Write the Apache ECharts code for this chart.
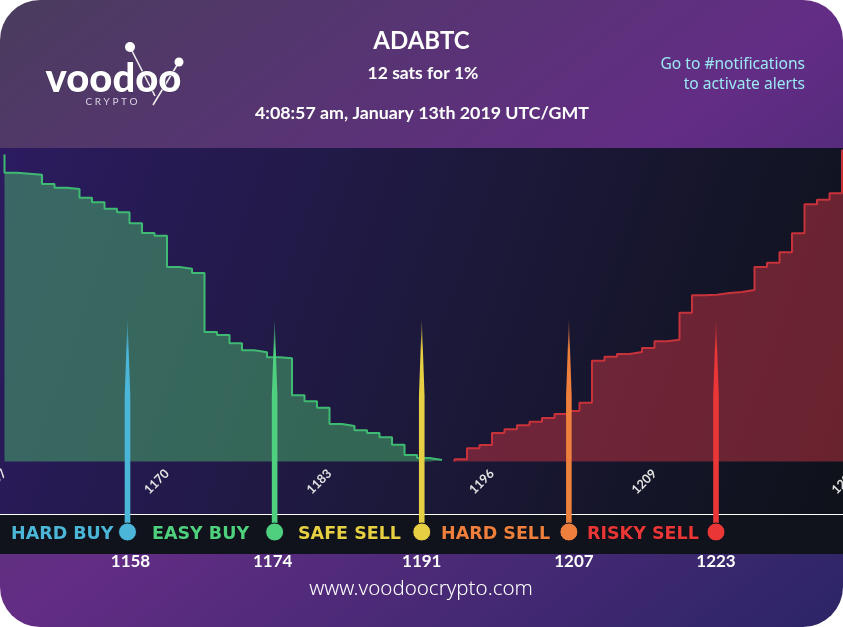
<!DOCTYPE html>
<html>
<head>
<meta charset="utf-8">
<title>ADABTC</title>
<style>
	html, body { margin: 0; padding: 0; background: #fff; }
	#main { width: 843px; height: 627px; }
</style>
<script src="https://cdn.jsdelivr.net/npm/echarts@6/dist/echarts.min.js"></script>
</head>
<body>
<div id="main"></div>
<script>
	// price axis
	var prices = ['1157','1158','1159','1160','1161','1162','1163','1164','1165','1166','1167','1168','1169','1170','1171','1172','1173',
		'1174','1175','1176','1177','1178','1179','1180','1181','1182','1183','1184','1185','1186','1187','1188','1189','1190','1191',
		'1192','1193','1194','1195','1196','1197','1198','1199','1200','1201','1202','1203','1204','1205','1206','1207','1208','1209',
		'1210','1211','1212','1213','1214','1215','1216','1217','1218','1219','1220','1221','1222','1223','1224','1225'];
	var tickLabels = ['1157','1170','1183','1196','1209','1225'];

	// order book depth, no scale on the picture so the unit is arbitrary
	var buyDepth = [307,288.8,287.8,286.8,277.5,273.8,272.5,263.8,259.2,252.8,249.2,238.2,228.5,225.8,194.5,192.8,188.5,129.5,126.5,
		118.2,111.2,109.2,104.2,103.2,66.2,60.2,53.8,37.5,35.5,31.2,28.5,24.2,16.8,6.5,3.5,1.5];
	var sellDepth = [0,2.2,13.2,16.5,28.5,32.2,36.2,39.8,43.5,47.5,50.5,58.8,100.8,104.8,107.5,109.5,113.5,120.2,121.8,148.8,166.2,
		166.8,168.5,169.5,171.5,194.5,198.8,209.2,228.2,257.2,261.8,268.2,311];
	var sellStart = 36;

	// pins under the chart
	var pinNames = ['HARD BUY','EASY BUY','SAFE SELL','HARD SELL','RISKY SELL'];
	var pinPrices = ['1158','1174','1191','1207','1223'];
	var pinColors = ['#4cb6d8','#4fd07f','#e6cf42','#ee7f3c','#ea3636'];
	var pinLabelShift = [3,-2,0,5,0];
	var pinNameX = [11,152,298,441,587];

	// no nulls here, the step line slants next to a gap
	function depthPoints(values, start) {
		return values.map(function (v, i) { return [prices[start + i], v]; });
	}

	function renderPin(params, api) {
		var i = params.dataIndex;
		var top = api.coord([api.value(0), 1]);
		var bot = api.coord([api.value(0), 0]);
		var x = top[0], w = 2.8;
		return {
			type: 'group',
			children: [{
				type: 'polygon',
				shape: { points: [[x, top[1]], [x + w, top[1] + 78], [x + w, bot[1]], [x - w, bot[1]], [x - w, top[1] + 78]] },
				style: {
					fill: new echarts.graphic.LinearGradient(0, 0, 0, 1, [
						{ offset: 0, color: 'rgba(255,255,255,0)' },
						{ offset: 0.02, color: pinColors[i] + '55' },
						{ offset: 0.15, color: pinColors[i] },
						{ offset: 1, color: pinColors[i] }
					])
				}
			}, {
				type: 'circle',
				shape: { cx: x, cy: bot[1], r: 9 },
				style: { fill: pinColors[i], stroke: '#10131c', lineWidth: 1 }
			}, {
				type: 'text',
				style: {
					x: x + pinLabelShift[i], y: bot[1] + 30, text: pinPrices[i], fill: '#fff',
					font: 'bold 17px Lato', textAlign: 'center', textVerticalAlign: 'middle'
				}
			}]
		};
	}

	function label(x, y, text, size, align, color, weight, family) {
		return {
			type: 'text', x: x, y: y, z: 1,
			style: {
				text: text, fill: color, textAlign: align, textVerticalAlign: 'middle',
				font: (weight || 'bold') + ' ' + size + 'px ' + (family || 'Lato')
			}
		};
	}

	var bgItems = [{
		type: 'rect', z: 0,
		shape: { x: 0, y: 0, width: 843, height: 627, r: 40 },
		style: {
			fill: new echarts.graphic.LinearGradient(0, 0, 0.712, 1.287, [
				{ offset: 0, color: '#4a3c5e' },
				{ offset: 0.5, color: '#632d85' },
				{ offset: 1, color: '#2b2565' }
			])
		}
	}, {
		type: 'rect', z: 0,
		shape: { x: 0, y: 148, width: 843, height: 367 },
		style: {
			fill: new echarts.graphic.LinearGradient(0, 0, 1, 0.8, [
				{ offset: 0, color: '#2c1b60' },
				{ offset: 0.5, color: '#1d193d' },
				{ offset: 1, color: '#0f121b' }
			])
		}
	}, {
		type: 'rect', z: 0,
		shape: { x: 0, y: 515, width: 843, height: 39 },
		style: { fill: '#10131c' }
	}, {
		type: 'line', z: 1,
		shape: { x1: 0, y1: 514.5, x2: 843, y2: 514.5 },
		style: { stroke: '#fff', lineWidth: 1.2 }
	},
	// logo
	{ type: 'line', z: 1, shape: { x1: 130, y1: 47, x2: 155, y2: 96 }, style: { stroke: '#eee', lineWidth: 1.6 } },
	{ type: 'line', z: 1, shape: { x1: 179, y1: 62, x2: 153, y2: 105 }, style: { stroke: '#eee', lineWidth: 1.6 } },
	{ type: 'circle', z: 1, shape: { cx: 130, cy: 47, r: 5 }, style: { fill: '#fff' } },
	{ type: 'circle', z: 1, shape: { cx: 179, cy: 62, r: 4.5 }, style: { fill: '#fff' } },
	{
		type: 'text', x: 113.5, y: 79, z: 1,
		style: {
			text: 'voodoo', fill: '#fff', stroke: '#3d2a55', lineWidth: 1, textAlign: 'center', textVerticalAlign: 'middle',
			font: '900 40px Lato'
		}
	},
	label(111.5, 102, 'C R Y P T O', 10, 'center', '#d8d4e2', 'normal'),
	// header
	label(421.5, 41, 'ADABTC', 24, 'center', '#fff'),
	label(423, 73, '12 sats for 1%', 17.5, 'center', '#fff'),
	label(422, 113, '4:08:57 am, January 13th 2019 UTC/GMT', 17.8, 'center', '#fff'),
	label(805, 65, 'Go to #notifications', 15.6, 'right', '#9ce8f5', 'normal', 'Noto Sans'),
	label(805, 85, 'to activate alerts', 15.6, 'right', '#9ce8f5', 'normal', 'Noto Sans'),
	label(421, 589, 'www.voodoocrypto.com', 20.5, 'center', '#fff', '300', 'Noto Sans')];

	pinNames.forEach(function (name, i) {
		var t = label(pinNameX[i], 534, name, 17.5, 'left', pinColors[i], 'bold', 'DejaVu Sans');
		t.style.stroke = '#0b0d13';
		t.style.lineWidth = 1;
		bgItems.push(t);
	});

	var myChart = echarts.init(document.getElementById('main'));
	var option = {
		animation: false,
		graphic: { elements: bgItems },
		grid: [
			{ left: 4.5, top: 150, width: 850, height: 311.5, outerBoundsMode: 'none' },
			{ left: 127.5, top: 318, width: 588.5, height: 214, outerBoundsMode: 'none' }
		],
		xAxis: [{
			type: 'category',
			gridIndex: 0,
			data: prices,
			boundaryGap: false,
			axisLine: { show: false },
			axisTick: { show: false },
			splitLine: { show: false },
			axisLabel: {
				rotate: 45,
				margin: 10,
				color: '#e2e2e2',
				fontFamily: 'Lato',
				fontWeight: 'bold',
				fontSize: 12.5,
				hideOverlap: false,
				interval: function (i, value) { return tickLabels.indexOf(value) >= 0; }
			}
		}, {
			type: 'category',
			gridIndex: 1,
			data: pinPrices,
			boundaryGap: false,
			show: false
		}],
		yAxis: [
			{ type: 'value', gridIndex: 0, min: 0, max: 311.5, show: false },
			{ type: 'value', gridIndex: 1, min: 0, max: 1, show: false }
		],
		series: [{
			name: 'buy',
			type: 'line',
			step: 'start',
			data: depthPoints(buyDepth, 0),
			symbol: 'none',
			lineStyle: { color: '#3fba72', width: 2 },
			areaStyle: { color: 'rgba(74,179,108,0.5)', opacity: 1 }
		}, {
			name: 'sell',
			type: 'line',
			step: 'start',
			data: depthPoints(sellDepth, sellStart),
			symbol: 'none',
			lineStyle: { color: '#c8323a', width: 2 },
			areaStyle: { color: 'rgba(195,51,65,0.5)', opacity: 1 }
		}, {
			name: 'pins',
			type: 'custom',
			xAxisIndex: 1,
			yAxisIndex: 1,
			z: 5,
			clip: false,
			renderItem: renderPin,
			data: pinPrices.map(function (p) { return [p, 1]; })
		}]
	};
	myChart.setOption(option);
</script>
</body>
</html>
